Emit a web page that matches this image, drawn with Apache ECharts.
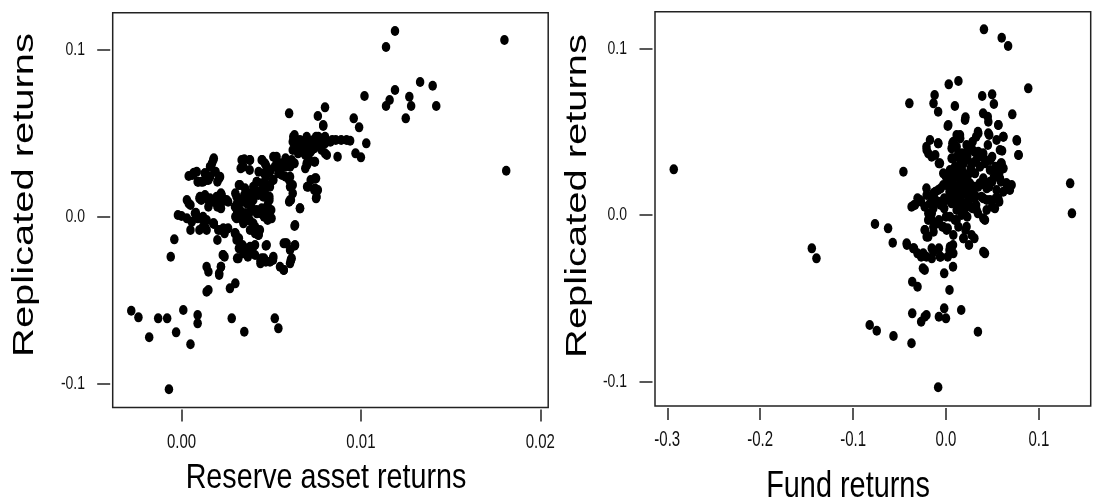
<!DOCTYPE html>
<html>
<head>
<meta charset="utf-8">
<script src="https://cdn.jsdelivr.net/npm/echarts@6/dist/echarts.min.js"></script>
<style>
	html, body { margin: 0; padding: 0; background: #fff; }
	#chart { width: 1112px; height: 504px; }
</style>
</head>
<body>
<div id="chart"></div>
<script>
// reserve asset returns vs replicated returns (left panel)
var reservePoints = [
	[0.0119,0.1114],[0.0114,0.1018],[0.0180,0.1060],[0.0181,0.0276],[0.0133,0.0808],[0.0140,0.0786],
	[0.0119,0.0760],[0.0127,0.0720],[0.0128,0.0664],[0.0142,0.0664],[0.0116,0.0700],[0.0114,0.0664],
	[0.0125,0.0590],[0.0102,0.0724],[0.0096,0.0590],[0.0099,0.0536],[0.0103,0.0440],[0.0097,0.0380],
	[0.0100,0.0356],[0.0094,0.0456],[0.0089,0.0460],[0.0087,0.0360],[0.0080,0.0380],[0.0080,0.0656],
	[0.0076,0.0604],[0.0079,0.0544],[0.0075,0.0480],[0.0080,0.0480],[0.0084,0.0460],[0.0073,0.0450],
	[0.0071,0.0410],[0.0074,0.0330],[0.0070,0.0310],[0.0075,0.0230],[0.0070,0.0180],[0.0074,0.0160],
	[0.0075,0.0110],[0.0060,0.0620],[0.0063,0.0490],[0.0062,0.0450],[0.0066,0.0450],[0.0064,0.0420],
	[0.0067,0.0390],[0.0063,0.0320],[0.0058,0.0300],[0.0056,0.0250],[0.0053,0.0360],[0.0052,0.0300],
	[0.0062,0.0190],[0.0060,0.0090],[0.0066,0.0050],[0.0063,-0.0056],[0.0058,-0.0160],[0.0063,-0.0174],
	[0.0061,-0.0260],[0.0057,-0.0320],[0.0052,-0.0610],[0.0054,-0.0670],[0.0051,-0.0250],[0.0047,-0.0174],
	[0.0044,-0.0280],[0.0046,-0.0250],[0.0050,0.0040],[0.0049,0.0120],[0.0048,0.0190],[0.0046,0.0260],
	[0.0045,0.0340],[0.0047,0.0310],[0.0042,0.0210],[0.0040,0.0140],[0.0042,-0.0080],[0.0042,0.0020],
	[0.0038,0.0340],[0.0035,0.0344],[0.0033,0.0290],[0.0032,0.0190],[0.0030,0.0140],[0.0031,0.0080],
	[0.0030,0.0000],[0.0036,0.0100],[0.0036,0.0020],[0.0037,-0.0020],[0.0039,0.0060],[0.0030,-0.0100],
	[0.0031,-0.0130],[0.0040,-0.0180],[0.0038,-0.0190],[0.0035,-0.0210],[0.0031,-0.0250],[0.0024,-0.0240],
	[0.0022,-0.0300],[0.0021,-0.0350],[0.0015,-0.0330],[0.0014,-0.0450],[0.0027,-0.0430],[0.0030,-0.0400],
	[0.0028,-0.0610],[0.0035,-0.0690],[0.0020,-0.0140],[0.0018,-0.0044],[0.0022,-0.0080],[0.0024,-0.0076],
	[0.0012,-0.0060],[0.0012,0.0000],[0.0008,0.0024],[0.0005,-0.0080],[0.0000,0.0004],[-0.0002,0.0010],
	[0.0003,0.0100],[0.0004,0.0080],[0.0004,0.0244],[0.0007,0.0264],[0.0009,0.0210],[0.0013,0.0260],
	[0.0012,0.0210],[0.0010,0.0110],[0.0014,0.0110],[0.0016,0.0240],[0.0017,0.0320],[0.0018,0.0350],
	[0.0019,0.0270],[0.0020,0.0210],[0.0018,0.0100],[0.0022,0.0140],[0.0024,0.0100],[0.0020,0.0060],
	[-0.0004,-0.0136],[-0.0006,-0.0240],[-0.0028,-0.0564],[-0.0024,-0.0604],[-0.0018,-0.0724],[-0.0013,-0.0610],
	[-0.0008,-0.0610],[-0.0003,-0.0694],[0.0001,-0.0560],[0.0005,-0.0766],[0.0009,-0.0590],[0.0009,-0.0640],
	[-0.0007,-0.1036],[0.0015,-0.0440],
	[0.0063,0.047],[0.0066,0.044],[0.0069,0.046],[0.0072,0.045],[0.0077,0.044],[0.0083,0.045],
	[0.0086,0.046],[0.0092,0.046],[0.0079,0.055],[0.0062,0.040],[0.0065,0.038],[0.0069,0.037],
	[0.0072,0.039],[0.0074,0.041],[0.0081,0.037],[0.0055,0.032],[0.0058,0.035],[0.0061,0.031],
	[0.0070,0.032],[0.0048,0.029],[0.0049,0.027],[0.0034,0.030],[0.0038,0.028],[0.0016,0.030],
	[0.0021,0.023],[0.0006,0.025],[0.0011,0.021],[0.0015,0.022],[0.0043,0.027],[0.0047,0.024],
	[0.0051,0.022],[0.0055,0.026],[0.0058,0.024],[0.0060,0.022],[0.0062,0.014],[0.0061,0.010],
	[0.0069,0.029],[0.0072,0.022],[0.0076,0.016],[0.0033,0.010],[0.0035,0.013],[0.0038,0.013],
	[0.0041,0.016],[0.0043,0.015],[0.0045,0.014],[0.0047,0.012],[0.0049,0.010],[0.0048,0.007],
	[0.0031,0.003],[0.0033,-0.001],[0.0035,-0.003],[0.0038,-0.002],[0.0040,-0.004],[0.0043,-0.010],
	[0.0044,0.002],[0.0046,0.000],[0.0048,-0.002],[0.0049,0.003],[0.0005,0.007],[0.0011,0.010],
	[0.0015,0.010],[0.0022,0.008],[0.0026,0.009],[0.0022,0.005],[0.0003,-0.001],[0.0009,-0.001],
	[0.0014,-0.002],[0.0018,-0.004],[0.0026,-0.007],[0.0010,-0.008],[0.0014,-0.008],[0.0024,-0.010],
	[0.0040,-0.006],[0.0023,-0.023],[0.0022,-0.030],[0.0021,-0.034],[0.0030,-0.010],[0.0032,-0.013],
	[0.0041,-0.010],[0.0043,-0.011],[0.0032,-0.019],[0.0034,-0.017],[0.0036,-0.022],[0.0039,-0.020],
	[0.0041,-0.023],[0.0037,-0.024],[0.0044,-0.026],[0.0047,-0.027],[0.0051,-0.026],[0.0057,-0.016],
	[0.0061,-0.026],[0.0057,-0.032],
	[0.00177,0.034],[0.00159,0.030],[0.00131,0.026],[0.00085,0.027],[0.0014,0.022],[0.00187,0.027],
	[0.00215,0.024],[0.00094,0.021],[0.00066,0.026],[0.00335,0.034],[0.00382,0.034],[0.00345,0.030],
	[0.00447,0.034],[0.00465,0.032],[0.00512,0.036],[0.0053,0.032],[0.00558,0.030],[0.00493,0.027],
	[0.0054,0.026],[0.00586,0.033],[0.00614,0.034],[0.00605,0.030],[0.00623,0.048],[0.0066,0.046],
	[0.00698,0.048],[0.00735,0.046],[0.00763,0.048],[0.0080,0.044],[0.00642,0.042],[0.00688,0.041],
	[0.00725,0.040],[0.00781,0.040],[0.00707,0.036],[0.00744,0.033],[0.00698,0.032],[0.00605,0.024],
	[0.00605,0.018],[0.00707,0.018],[0.00744,0.017],[0.00753,0.012],[0.00744,0.023],[0.00326,0.019],
	[0.00354,0.017],[0.00373,0.014],[0.0040,0.018],[0.00419,0.021],[0.00447,0.020],[0.00465,0.016],
	[0.00493,0.018],[0.00512,0.022],[0.00307,0.012],[0.00335,0.009],[0.00363,0.008],[0.0040,0.010],
	[0.00428,0.013],[0.00456,0.012],[0.00484,0.010],[0.00298,0.006],[0.00326,0.004],[0.00354,0.002],
	[0.00382,0.003],[0.00419,0.004],[0.00447,0.005],[0.00475,0.002],[0.00502,-0.001],[0.00307,-0.001],
	[0.00345,-0.004],[0.00373,-0.002],[0.0041,-0.006],[0.00437,-0.008],[0.00382,-0.008],[0.00428,-0.011],
	[0.00103,0.012],[0.00131,0.013],[0.00159,0.011],[0.00196,0.012],[0.00224,0.013],[0.00252,0.010],
	[0.00177,0.009],[0.0015,0.006],[0.00075,0.002],[0.00112,-0.001],[0.00131,-0.006],[0.00177,-0.004],
	[0.00205,-0.008],[0.00233,-0.007],[0.00057,-0.003],[0.00298,-0.010],[0.00307,-0.014],[0.00354,-0.019],
	[0.00382,-0.018],[0.0041,-0.017],[0.00345,-0.022],[0.00317,-0.025],[0.00475,-0.017],[0.00447,-0.025],
	[0.00512,-0.024],[0.00493,-0.027],[0.00586,-0.016],[0.00633,-0.017],[0.00605,-0.020],[0.00614,-0.025],
	[0.00661,0.005],[0.00633,-0.005],[0.00605,0.010],[0.00233,-0.023],[0.0014,-0.030],[0.00549,-0.030],
	[0.00605,-0.028]
];

// fund returns vs replicated returns (right panel)
var fundPoints = [
	[-0.293,0.0274],[-0.1444,-0.020],[-0.1394,-0.026],[-0.0821,-0.066],[-0.0745,-0.0694],[-0.0565,-0.0726],
	[-0.0371,-0.077],[-0.0764,-0.0054],[-0.0623,-0.008],[-0.0573,-0.0166],[-0.042,-0.018],[-0.0394,0.067],
	[-0.0458,0.026],[-0.0084,-0.1034],[0.0409,0.1114],[0.060,0.1064],[0.0669,0.1014],[0.0886,0.076],
	[0.1337,0.019],[0.1356,0.001],[0.003,0.0784],[0.0134,0.0804],[-0.0122,0.072],[-0.0134,0.067],
	[-0.0084,0.062],[0.0096,0.0654],[0.021,0.0586],[0.0019,0.0534],[0.039,0.0714],[0.040,0.061],
	[0.045,0.059],[0.0497,0.0724],[0.0516,0.0666],[0.0714,0.0604],[0.0565,0.054],[0.0764,0.0446],
	[0.0783,0.036],[0.0619,0.047],[0.0604,0.0386],[0.0344,0.050],[0.0466,0.048],[0.0325,0.047],
	[0.0287,0.044],[0.0248,0.041],[0.0115,0.048],[0.0153,0.046],[0.0069,0.043],[0.0115,0.041],
	[0.0172,0.037],[0.0145,0.034],[0.0076,0.034],[-0.0172,0.045],[-0.0084,0.043],[-0.021,0.041],
	[-0.019,0.037],[-0.0115,0.036],[-0.0076,0.031],[0.003,0.025],
	[0.0363,0.035],[0.0420,0.031],[0.0401,0.037],[0.0478,0.033],[0.0535,0.029],[0.0573,0.025],
	[0.0516,0.023],[0.0592,0.020],[0.0649,0.019],[0.0707,0.018],[0.0688,0.015],[0.0,0.023],
	[0.0057,0.020],[0.0115,0.017],[0.0153,0.020],[0.0191,0.014],[0.0229,0.016],[0.0267,0.013],
	[0.0306,0.017],[0.0363,0.019],[0.0420,0.018],[0.0466,0.017],[0.0229,0.023],[0.0267,0.028],
	[0.0172,0.027],[0.0096,0.029],[0.0076,0.025],[0.0,0.018],[-0.0057,0.016],[-0.0115,0.014],
	[-0.0153,0.011],[-0.0210,0.016],[-0.0306,0.010],[-0.0267,0.008],[-0.0344,0.006],[-0.0229,0.005],
	[-0.0172,0.007],[-0.0115,0.009],[-0.0057,0.006],[-0.0019,0.004],[0.0038,0.009],[0.0096,0.010],
	[0.0153,0.011],[0.0191,0.007],[0.0248,0.009],[0.0287,0.004],[0.0325,0.006],[0.0344,0.001],
	[0.0420,-0.003],[0.0439,0.009],[0.0497,0.005],[0.0535,0.010],[0.0573,0.008],[0.0115,0.003],
	[0.0172,0.001],[0.0229,-0.001],[0.0,-0.001],[-0.0076,-0.003],[-0.0153,0.001],[-0.0191,-0.003],
	[-0.0229,-0.009],[-0.0191,-0.013],[-0.0134,-0.010],[-0.0096,-0.005],[-0.0038,-0.007],[0.0019,-0.008],
	[0.0096,-0.003],[0.0134,-0.007],[0.0210,-0.009],[0.0191,-0.014],[0.0248,-0.018],[0.0306,-0.014],
	[0.0420,-0.023],[0.0076,-0.018],[0.0038,-0.021],[0.0019,-0.025],[0.0076,-0.031],[-0.0019,-0.035],
	[0.0038,-0.045],[-0.0076,-0.020],[-0.0057,-0.025],[-0.0153,-0.026],[-0.0210,-0.025],[-0.0267,-0.025],
	[-0.0306,-0.023],[-0.0344,-0.020],[-0.0248,-0.032],[-0.0229,-0.033],[-0.0363,-0.040],[-0.0306,-0.043],
	[-0.0363,-0.059],[-0.0267,-0.064],[-0.0229,-0.061],[-0.0210,-0.060],[-0.0076,-0.061],[-0.0019,-0.056],
	[0.0,-0.062],[0.0164,-0.057],[0.0344,-0.070],[-0.0153,-0.020],
	[0.0191,0.021],[0.0248,0.025],[0.0287,0.031],[0.0325,0.033],[0.0229,0.035],[0.0191,0.031],
	[0.0115,0.025],[0.0038,0.014],[-0.0019,0.010],[0.0076,0.013],[0.0134,0.014],[0.0306,0.010],
	[0.0382,0.011],[0.0497,0.020],[0.0554,0.023],[0.0619,0.028],[0.0592,0.031],[0.0497,0.035],
	[0.0451,0.042],[0.0306,0.038],[0.0229,0.038],
	[0.0025,0.054],[0.0205,0.057],[0.0456,0.056],[0.0563,0.054],[0.0761,0.045],[0.0779,0.036],
	[0.0617,0.047],[0.0545,0.045],[0.0456,0.049],[0.0348,0.049],[0.0151,0.048],[0.0079,0.044],
	[0.0061,0.040],[-0.0083,0.043],[-0.0208,0.039],[-0.0154,0.035],[-0.0065,0.031],[0.0061,0.034],
	[0.0133,0.037],[0.0222,0.042],[0.0276,0.040],[0.0348,0.038],[0.0402,0.035],[0.0474,0.033],
	[0.0581,0.039],[0.0599,0.031],[0.0545,0.027],[0.0474,0.027],[0.0366,0.029],[0.0276,0.031],
	[0.0205,0.033],[0.0133,0.029],[0.0043,0.027],[-0.0029,0.025],[0.0079,0.022],[0.0151,0.023],
	[0.0222,0.024],[0.0312,0.025],[0.0402,0.022],[0.0474,0.020],[0.0581,0.022],[0.0653,0.019],
	[0.0617,0.014],[0.0545,0.015],[0.0438,0.016],[0.0348,0.017],[0.0258,0.019],[0.0187,0.018],
	[0.0043,0.016],[-0.0029,0.018],[-0.0083,0.015],[-0.0136,0.013],[-0.0208,0.012],[-0.0280,0.009],
	[-0.0334,0.006],[-0.0370,0.005],[0.0097,0.014],[0.0169,0.012],[0.0240,0.011],[0.0312,0.012],
	[0.0402,0.010],[0.0474,0.009],[0.0563,0.010],[0.0527,0.004],[0.0438,0.003],[0.0402,-0.002],
	[0.0330,0.003],[0.0258,0.005],[0.0205,0.004],[0.0133,0.006],[0.0061,0.007],[0.0007,0.009],
	[-0.0083,0.008],[-0.0136,0.004],[-0.0190,0.001],[-0.0154,-0.003],[-0.0226,-0.009],[-0.0208,-0.013],
	[-0.0136,-0.007],[-0.0029,-0.007],[0.0043,-0.001],[0.0115,-0.003],[0.0169,0.000],[0.0222,-0.007],
	[0.0276,-0.012],[0.0187,-0.014],[0.0079,-0.012],[0.0007,-0.009],[-0.0423,-0.017],[-0.0352,-0.020],
	[-0.0244,-0.023],[-0.0136,-0.022],[-0.0065,-0.025],[0.0043,-0.019],[0.0079,-0.023],[0.0402,-0.022]
];

var reserveTicks = [0, 0.01, 0.02];
var fundTicks = [-0.3, -0.2, -0.1, 0, 0.1];
var replicatedTicks = [-0.1, 0, 0.1];

var myChart = echarts.init(document.getElementById('chart'));

var labelFont = '"Liberation Sans", Arial, sans-serif';

function xAxisOf(idx, min, max, ticks){
	return {
		type: 'value',
		gridIndex: idx,
		min: min,
		max: max,
		offset: 2,
		splitLine: { show: false },
		axisLine: { show: false, onZero: false },
		axisTick: { show: true, customValues: ticks, length: 12, lineStyle: { color: '#222', width: 1.5 } },
		axisLabel: { show: false }
	};
}
function yAxisOf(idx, min, max){
	return {
		type: 'value',
		gridIndex: idx,
		min: min,
		max: max,
		offset: 2.5,
		splitLine: { show: false },
		axisLine: { show: false, onZero: false },
		axisTick: { show: true, customValues: replicatedTicks, length: 13, lineStyle: { color: '#222', width: 1.5 } },
		axisLabel: { show: false }
	};
}

var option = {
	animation: false,
	backgroundColor: '#fff',
	grid: [
		{ left: 112.7, top: 12.7, width: 435.5, height: 394.8, show: true, borderColor: '#222', borderWidth: 1.5 },
		{ left: 655, top: 11.7, width: 435.7, height: 394.3, show: true, borderColor: '#222', borderWidth: 1.5 }
	],
	xAxis: [
		xAxisOf(0, -0.003835, 0.02044, reserveTicks),
		xAxisOf(1, -0.3132, 0.1558, fundTicks)
	],
	yAxis: [
		yAxisOf(0, -0.1145, 0.1224),
		yAxisOf(1, -0.1146, 0.122)
	],
	series: [
		{
			type: 'scatter', xAxisIndex: 0, yAxisIndex: 0, silent: true,
			symbol: 'circle', symbolSize: [8.5, 10],
			itemStyle: { color: '#000', opacity: 1 },
			data: reservePoints
		},
		{
			type: 'scatter', xAxisIndex: 1, yAxisIndex: 1, silent: true,
			symbol: 'circle', symbolSize: [8.5, 10],
			itemStyle: { color: '#000', opacity: 1 },
			data: fundPoints
		}
	]
};
myChart.setOption(option);

// tick labels: the picture has tall, narrow digits, so they are stretched text placed on the axis scale
function tickText(text, x, y, align, size, stretch){
	return { type: 'text', x: x, y: y, scaleY: stretch, silent: true,
		style: { text: text, font: size + 'px ' + labelFont, fill: '#111', align: align, verticalAlign: 'middle' } };
}
var graphics = [
	{ type: 'text', x: 25, y: 195, rotation: Math.PI / 2, scaleX: 1.33, silent: true,
		style: { text: 'Replicated returns', font: '30px ' + labelFont, fill: '#000', align: 'center', verticalAlign: 'middle' } },
	{ type: 'text', x: 578, y: 196, rotation: Math.PI / 2, scaleX: 1.33, silent: true,
		style: { text: 'Replicated returns', font: '30px ' + labelFont, fill: '#000', align: 'center', verticalAlign: 'middle' } },
	{ type: 'text', x: 326, y: 478, scaleX: 0.82, silent: true,
		style: { text: 'Reserve asset returns', font: '35px ' + labelFont, fill: '#000', align: 'center', verticalAlign: 'middle' } },
	{ type: 'text', x: 848, y: 487, scaleX: 0.78, silent: true,
		style: { text: 'Fund returns', font: '37px ' + labelFont, fill: '#000', align: 'center', verticalAlign: 'middle' } }
];
reserveTicks.forEach(function(v){
	graphics.push(tickText(v.toFixed(2), myChart.convertToPixel({ xAxisIndex: 0 }, v), 442, 'center', 15, 1.4));
});
fundTicks.forEach(function(v){
	graphics.push(tickText(v.toFixed(1), myChart.convertToPixel({ xAxisIndex: 1 }, v), 440, 'center', 15, 1.5));
});
replicatedTicks.forEach(function(v){
	graphics.push(tickText(v.toFixed(1), 85, myChart.convertToPixel({ yAxisIndex: 0 }, v), 'right', 14, 1.35));
	graphics.push(tickText(v.toFixed(1), 627, myChart.convertToPixel({ yAxisIndex: 1 }, v), 'right', 14, 1.35));
});
myChart.setOption({ graphic: graphics });
</script>
</body>
</html>
